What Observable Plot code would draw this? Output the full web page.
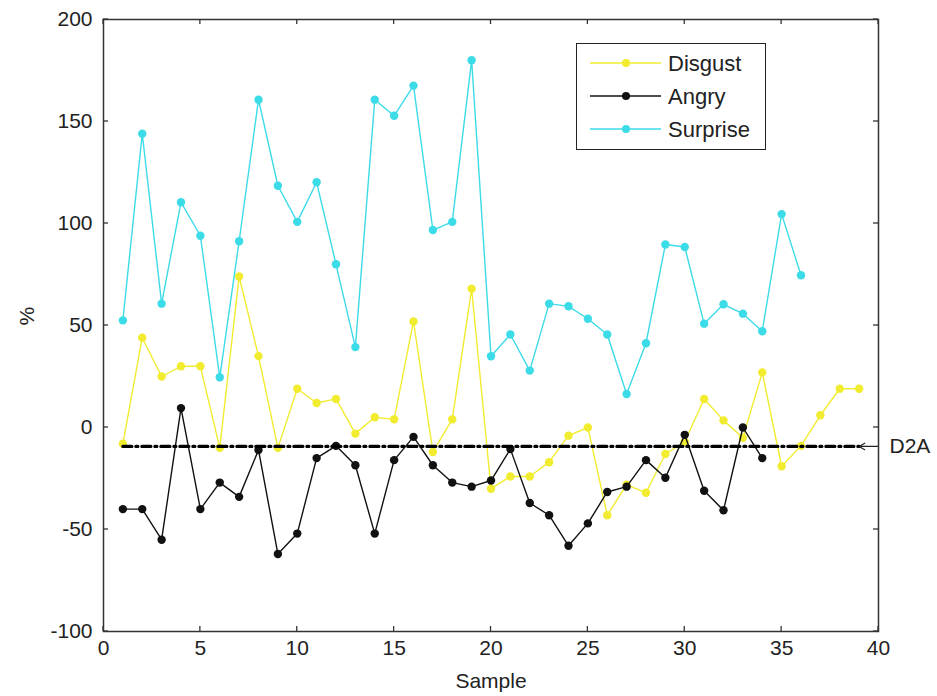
<!DOCTYPE html>
<html>
<head>
<meta charset="utf-8">
<script src="https://cdn.jsdelivr.net/npm/d3@7"></script>
<script src="https://cdn.jsdelivr.net/npm/@observablehq/plot@0.6"></script>
<style>
  body { margin: 0; background: #fff; }
  #wrap { position: relative; width: 937px; height: 696px; font-family: "Liberation Sans", Arial, sans-serif; }
  #legend { position: absolute; left: 576px; top: 43px; width: 188px; height: 105px; border: 1.5px solid #222; background: #fff; }
  #legend svg { overflow: visible; display: block; }
</style>
</head>
<body>
<div id="wrap"></div>
<script>
// ---- data ----
const seriesNames = ["Disgust", "Angry", "Surprise"];
const disgust = [-8, 44, 25, 30, 30, -10, 74, 35, -10, 19, 12, 14, -3, 5, 4, 52, -12, 4, 68, -30,
  -24, -24, -17, -4, 0, -43, -28, -32, -13, -7, 14, 3.5, -5, 27, -19, -9, 6, 19, 19];
const angry = [-40, -40, -55, 9.5, -40, -27, -34, -11, -62, -52, -15, -9, -18.5, -52, -16, -4.6, -18.5, -27, -29, -26,
  -10.6, -37, -43, -58, -47, -31.6, -29, -16, -24.6, -3.6, -31, -40.6, 0, -15];
const surprise = [52.5, 144, 60.7, 110.4, 94, 24.6, 91.3, 160.7, 118.5, 100.8, 120.2, 80, 39.4, 160.7, 152.8, 167.6, 96.8, 100.8, 180, 34.9,
  45.6, 27.9, 60.7, 59.4, 53.3, 45.6, 16.4, 41.3, 89.7, 88.5, 50.9, 60.4, 55.8, 47.2, 104.6, 74.6];
const d2aValue = -9.3;
const d2aLabel = "D2A";
const xTicks = [0, 5, 10, 15, 20, 25, 30, 35, 40];
const yTicks = [-100, -50, 0, 50, 100, 150, 200];
const xLabel = "Sample";
const yLabel = "%";

// ---- styles ----
const colors = {Disgust: "#f2ec30", Angry: "#111111", Surprise: "#3cdbe8"};
const font = "Liberation Sans, Arial, sans-serif";

const valuesBySeries = {Disgust: disgust, Angry: angry, Surprise: surprise};
const rows = seriesNames.flatMap(name =>
  valuesBySeries[name].map((v, i) => ({series: name, sample: i + 1, value: v})));
const allSamples = disgust.map((_, i) => i + 1);
const d2aLine = [{x: allSamples[0], y: d2aValue}, {x: allSamples[allSamples.length - 1], y: d2aValue}];

const xDomain = [xTicks[0], xTicks[xTicks.length - 1]];
const yDomain = [yTicks[0], yTicks[yTicks.length - 1]];
const fmt = d => `${d}`;

const marks = [];
for (const name of seriesNames) {
  const data = rows.filter(d => d.series === name);
  marks.push(Plot.line(data, {x: "sample", y: "value", stroke: colors[name], strokeWidth: 1.4}));
  marks.push(Plot.dot(data, {x: "sample", y: "value", fill: colors[name], r: 4.2}));
}
marks.push(Plot.line(d2aLine, {x: "x", y: "y", stroke: "#000", strokeWidth: 3.2, strokeDasharray: "9,4,2,4"}));
marks.push(Plot.arrow([d2aValue], {x1: () => xDomain[1], x2: () => allSamples[allSamples.length - 1], y1: d => d, y2: d => d,
  stroke: "#222", strokeWidth: 1.2, headLength: 9, insetStart: 0, insetEnd: 0}));
marks.push(Plot.text([d2aLabel], {x: () => xDomain[1], y: () => d2aValue, text: d => d, textAnchor: "start", dx: 11,
  fontSize: 21, fill: "#222"}));
marks.push(Plot.frame({stroke: "#333", strokeWidth: 1.5}));
marks.push(Plot.axisX(xTicks, {tickSize: 0, tickPadding: 9, fontSize: 21, label: null, fill: "#222", tickFormat: fmt}));
marks.push(Plot.axisY(yTicks, {tickSize: 0, tickPadding: 11, fontSize: 21, label: null, fill: "#222", tickFormat: fmt}));
marks.push(Plot.text([xLabel], {frameAnchor: "bottom", dy: 56, text: d => d, fontSize: 21, fill: "#222"}));
marks.push(Plot.text([yLabel], {frameAnchor: "left", dx: -76, rotate: -90, text: d => d, fontSize: 21, fill: "#222"}));

const chart = Plot.plot({
  width: 937,
  height: 696,
  marginTop: 19,
  marginRight: 59,
  marginBottom: 65,
  marginLeft: 103,
  style: {fontFamily: font, background: "#fff"},
  x: {domain: xDomain, axis: null},
  y: {domain: yDomain, axis: null},
  marks
});

// inward ticks on all four sides, placed with Plot's own scales
const sx = chart.scale("x"), sy = chart.scale("y");
const svg = d3.select(chart);
const tickLen = 5;
const g = svg.append("g").attr("stroke", "#333").attr("stroke-width", 1.3);
const yb = sy.apply(yDomain[0]), yt = sy.apply(yDomain[1]);
const xl = sx.apply(xDomain[0]), xr = sx.apply(xDomain[1]);
for (const t of xTicks) {
  const px = sx.apply(t);
  g.append("line").attr("x1", px).attr("x2", px).attr("y1", yb).attr("y2", yb - tickLen);
  g.append("line").attr("x1", px).attr("x2", px).attr("y1", yt).attr("y2", yt + tickLen);
}
for (const t of yTicks) {
  const py = sy.apply(t);
  g.append("line").attr("y1", py).attr("y2", py).attr("x1", xl).attr("x2", xl + tickLen);
  g.append("line").attr("y1", py).attr("y2", py).attr("x1", xr).attr("x2", xr - tickLen);
}

const wrap = document.getElementById("wrap");
wrap.appendChild(chart);

// legend inside the plot area (top right)
const legend = document.createElement("div");
legend.id = "legend";
const lsvg = d3.select(legend).append("svg").attr("width", 188).attr("height", 105);
seriesNames.forEach((name, i) => {
  const cy = 19 + i * 33;
  lsvg.append("line").attr("x1", 13).attr("x2", 84).attr("y1", cy).attr("y2", cy)
    .attr("stroke", colors[name]).attr("stroke-width", 1.4);
  lsvg.append("circle").attr("cx", 49).attr("cy", cy).attr("r", 4).attr("fill", colors[name]);
  lsvg.append("text").attr("x", 91).attr("y", cy).attr("dy", "0.35em")
    .attr("font-family", font).attr("font-size", 22).attr("fill", "#222").text(name);
});
wrap.appendChild(legend);
</script>
</body>
</html>
